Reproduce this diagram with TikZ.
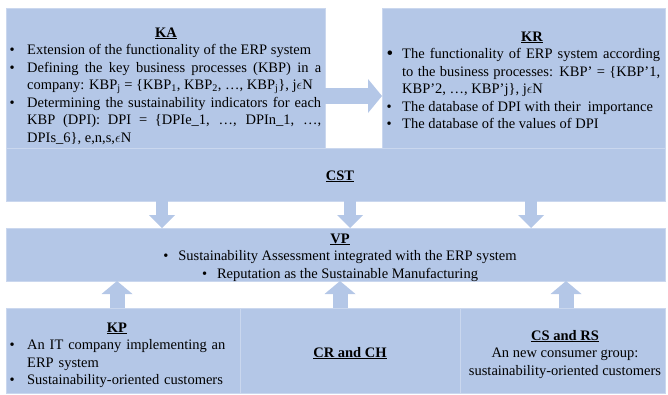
\documentclass[tikz,border=0pt]{standalone}
\usepackage{fontspec}
\setmainfont{Liberation Serif}
\usetikzlibrary{arrows.meta}
\definecolor{boxblue}{HTML}{B4C7E7}
\definecolor{boxline}{HTML}{CAD7EE}
\newcommand{\boxfont}{\fontsize{14.5}{17.5}\selectfont}
\newcommand{\bul}[1][17.5pt]{\noindent\strut\hspace*{-#1}\makebox[#1][l]{\textbullet}}
\tikzset{
  box/.style={draw=boxline, fill=boxblue, line width=0.8pt, inner sep=0pt, outer sep=0pt, anchor=north west},
  title/.style={font=\boxfont\bfseries, inner sep=0pt, anchor=base},
  body/.style={font=\boxfont, inner sep=0pt, anchor=north west, align=justify},
  lines/.style={font=\boxfont, inner sep=0pt, anchor=north, align=center},
  harrow/.style={draw=boxblue, line width=16pt, -{Triangle[length=14pt,width=34pt,line width=0pt]}},
  darrow/.style={draw=boxblue, line width=12pt, -{Triangle[length=13pt,width=26pt,line width=0pt]}},
  uarrow/.style={draw=boxblue, line width=15pt, -{Triangle[length=13pt,width=31pt,line width=0pt]}}
}
\begin{document}
\begin{tikzpicture}[x=1pt,y=-1pt]
\useasboundingbox (0,0) rectangle (668,394);
% boxes
\node[box, minimum width=319pt, minimum height=140pt] (KA) at (6,8) {};
\node[box, minimum width=283pt, minimum height=140pt] (KR) at (382,8) {};
\node[box, minimum width=659pt, minimum height=53pt] (CST) at (6,148) {};
\node[box, minimum width=659pt, minimum height=53pt] (VP) at (6,228) {};
\node[box, minimum width=234pt, minimum height=85pt] (KP) at (6,308) {};
\node[box, minimum width=220pt, minimum height=85pt] (CRCH) at (240,308) {};
\node[box, minimum width=205pt, minimum height=85pt] (CSRS) at (460,308) {};

% titles
\node[title] (KAtitle) at (166,37) {\underline{KA}};
\node[title] (KRtitle) at (532,41) {\underline{KR}};
\node[title] (CSTtitle) at (340,180) {\underline{CST}};
\node[title] (VPtitle) at (340,243) {\underline{VP}};
\node[title] (KPtitle) at (117,332) {\underline{KP}};
\node[title] (CRCHtitle) at (350,357) {\underline{CR and CH}};
\node[title] (CSRStitle) at (565,340) {\underline{CS and RS}};

% texts
\node[body, text width=311.5pt] (KAtext) at (9.5,42.25) {\leftskip=17.5pt
\bul Extension of the functionality of the ERP system\par
\bul Defining the key business processes (KBP) in a\linebreak company: KBP\textsubscript{j} = \{KBP\textsubscript{1}, KBP\textsubscript{2}, …, KBP\textsubscript{j}\}, j$\epsilon$N\par
\bul Determining the sustainability indicators for each\linebreak KBP (DPI): DPI = \{DPIe\_1, …, DPIn\_1, …,\linebreak DPIs\_6\}, e,n,s,$\epsilon$N\par};
\node[body, text width=273.5pt] (KRtext) at (386.5,46.25) {\leftskip=15.5pt
\noindent\strut\hspace*{-15.5pt}\makebox[15.5pt][l]{\raisebox{-0.6pt}{\fontsize{19}{17.5}\selectfont\textbullet}}The functionality of ERP system according\linebreak to the business processes: KBP’ = \{KBP’1,\linebreak KBP’2, …, KBP’j\}, j$\epsilon$N\par
\bul[15.5pt]The database of DPI with their\ \ importance\par
\bul[15.5pt]The database of the values of DPI\par};
\node[lines] (VPtext) at (340,248.25) {\strut\makebox[15pt][l]{\textbullet}Sustainability Assessment integrated with the ERP system\\
\makebox[15pt][l]{\textbullet}Reputation as the Sustainable Manufacturing};
\node[body, align=left, text width=226.5pt] (KPtext) at (9.5,337.25) {\leftskip=17.5pt
\bul An IT company implementing an\newline ERP system\par
\bul Sustainability-oriented customers\par};
\node[lines] (CSRStext) at (565,345.25) {\strut An new consumer group:\\sustainability-oriented customers};

% arrows
\draw[harrow] ([yshift=-18pt]KA.east) -- ([yshift=-18pt]KR.west);
\foreach \x in {162,350,531} {
  \coordinate (d) at (\x,0);
  \draw[darrow] (d |- CST.south) -- (d |- VP.north);
}
\foreach \x/\n in {117/KP,340/CRCH,566/CSRS} {
  \coordinate (u) at (\x,0);
  \draw[uarrow] (u |- \n.north) -- (u |- VP.south);
}
\end{tikzpicture}
\end{document}
